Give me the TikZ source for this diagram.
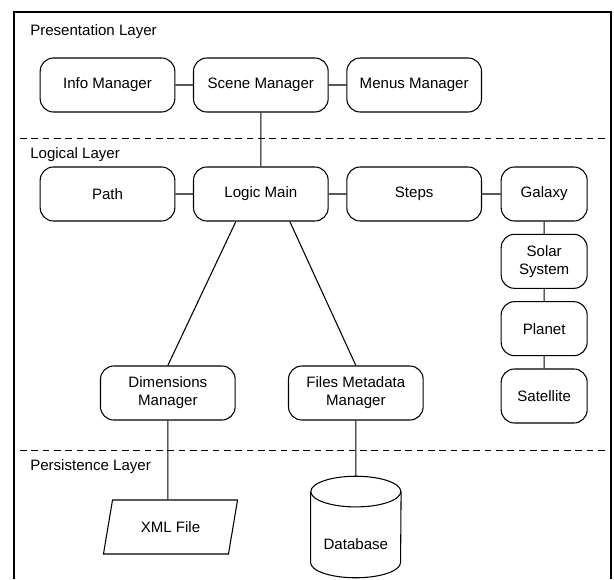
\documentclass[tikz,border=0pt]{standalone}
\usepackage{fontspec}
\setmainfont{Liberation Sans}
\usetikzlibrary{positioning, shapes.geometric}

\tikzset{
    box/.style={draw, rounded corners=10pt, minimum width=101pt, minimum height=40.5pt, align=center, line width=0.8pt},
    smallbox/.style={box, minimum width=64.5pt},
    layer/.style={anchor=west, inner sep=0pt},
    divider/.style={dash pattern=on 5pt off 3.5pt, line width=0.6pt}
}

\begin{document}
\begin{tikzpicture}[x=0.75pt, y=-0.75pt, node distance=115pt, on grid, font=\fontsize{11.3}{13.5}\selectfont]
    \useasboundingbox (0,0) rectangle (614,579);
    \draw[line width=0.8pt] (14,579) -- (14,12) -- (611,12) -- (611,579);
    \draw[divider] (20,138) -- (608,138);
    \draw[divider] (20,450) -- (608,450);

    \node[layer] (pres) at (30,32) {Presentation Layer};
    \node[layer] (logic) at (30,155) {Logical Layer};
    \node[layer] (pers) at (30,467) {Persistence Layer};

    % presentation
    \node[box] (info) at (107.5,85) {Info Manager};
    \node[box] (scene) [right=of info] {Scene Manager};
    \node[box] (menus) [right=of scene] {Menus Manager};

    % logic
    \node[box] (lm) [below=81.75pt of scene] {Logic Main};
    \node[box] (path) [left=of lm] {Path};
    \node[box] (steps) [right=of lm] {Steps};
    \node[smallbox] (galaxy) [right=97.5pt of steps] {Galaxy};
    \node[smallbox] (solar) [below=50.5pt of galaxy] {Solar\\System};
    \node[smallbox] (planet) [below=50.5pt of solar] {Planet};
    \node[smallbox] (sat) [below=50.5pt of planet] {Satellite};
    \node[box] (dims) [below left=149.25pt and 69.75pt of lm] {Dimensions\\Manager};
    \node[box] (files) [below right=149.25pt and 71.25pt of lm] {Files Metadata\\Manager};

    % persistence
    \node[trapezium, draw, line width=0.8pt, trapezium stretches=true, trapezium left angle=75, trapezium right angle=105,
          minimum width=101pt, minimum height=40.5pt] (xml) [below=100.5pt of dims, xshift=2pt] {XML File};
    \node[minimum width=67.5pt, minimum height=75.75pt, inner sep=0pt,
          label={[yshift=-13pt]center:Database}] (db) [below=100.5pt of files] {};
    % database cylinder
    \draw[line width=0.8pt] ([yshift=-11.5pt]db.north) ellipse [x radius=33.75pt, y radius=11.5pt];
    \draw[line width=0.8pt] ([yshift=-11.5pt]db.north west) -- ([yshift=11.5pt]db.south west)
        arc[start angle=180, end angle=360, x radius=33.75pt, y radius=11.5pt] -- ([yshift=-11.5pt]db.north east);

    \draw[line width=0.8pt]
        (info) -- (scene)
        (scene) -- (menus)
        (scene) -- (lm)
        (path) -- (lm)
        (lm) -- (steps)
        (steps) -- (galaxy)
        (galaxy) -- (solar)
        (solar) -- (planet)
        (planet) -- (sat)
        ([xshift=-18.75pt]lm.south) -- (dims.north)
        ([xshift=21.75pt]lm.south) -- (files.north)
        (dims.south) -- (dims.south |- xml.north)
        (files.south) -- (files.south |- db.north);
\end{tikzpicture}
\end{document}
